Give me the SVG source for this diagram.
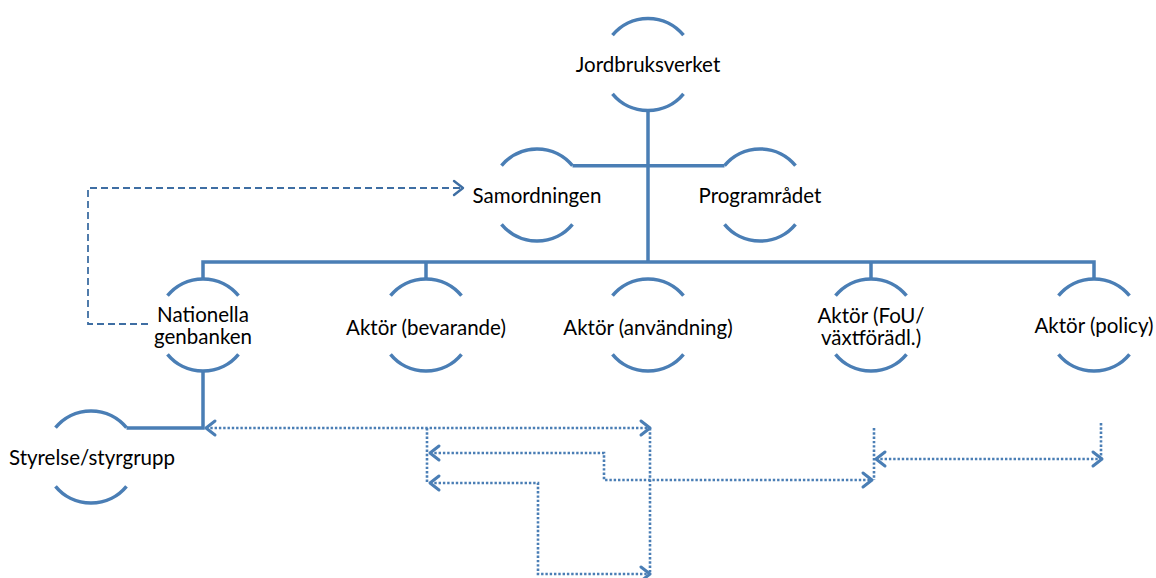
<svg xmlns="http://www.w3.org/2000/svg" xmlns:xlink="http://www.w3.org/1999/xlink" width="1156" height="578" viewBox="0 0 1156 578">
<style>
.ring{fill:none;stroke:#4A7EB5;stroke-width:3.5}
.solid{fill:none;stroke:#4A7EB5;stroke-width:3.5}
.dash{fill:none;stroke:#3E6EA3;stroke-width:1.8;stroke-dasharray:7 4}
.dot{fill:none;stroke:#4A7EB5;stroke-width:2.6;stroke-dasharray:2.4 1.9}
.lbl{font-family:Lato,"Open Sans",sans-serif;font-size:20.5px;fill:#000;text-anchor:middle}
</style>
<defs>
<path id="ringshape" d="M-35.5 -29.3 A46 46 0 0 1 35.5 -29.3 M-35.5 29.3 A46 46 0 0 0 35.5 29.3"/>
<marker id="chev" markerUnits="userSpaceOnUse" markerWidth="24" markerHeight="24" viewBox="-12 -12 16 24" refX="0" refY="0" orient="auto-start-reverse">
<path d="M-9 -7 L0 0 L-9 7" fill="none" stroke="#4A7EB5" stroke-width="3" stroke-linecap="round" stroke-linejoin="round"/>
</marker>
<marker id="chevd" markerUnits="userSpaceOnUse" markerWidth="24" markerHeight="24" viewBox="-12 -12 16 24" refX="0" refY="0" orient="auto-start-reverse">
<path d="M-9 -7 L0 0 L-9 7" fill="none" stroke="#3E6EA3" stroke-width="2.4" stroke-linecap="round" stroke-linejoin="round"/>
</marker>
</defs>
<g id="connectors">
<path class="solid" d="M648 110 V262"/>
<path class="solid" d="M572.5 165.7 H724.5"/>
<path class="solid" d="M203 279 V262 H1094 V279"/>
<path class="solid" d="M426 262 V279"/>
<path class="solid" d="M871 262 V279"/>
<path class="solid" d="M203 371 V428 H126.5"/>
<path class="dash" d="M148 324 H88 V188 H463" marker-end="url(#chevd)"/>
<path class="dot" d="M206 428 H650" marker-start="url(#chev)" marker-end="url(#chev)"/>
<path class="dot" d="M650 428 V574"/>
<path class="dot" d="M427 428 V483"/>
<path class="dot" d="M430 453 H604 V480 H872" marker-start="url(#chev)" marker-end="url(#chev)"/>
<path class="dot" d="M430 483 H538 V574 H650" marker-start="url(#chev)" marker-end="url(#chev)"/>
<path class="dot" d="M874 428 V480"/>
<path class="dot" d="M876 459 H1102" marker-start="url(#chev)" marker-end="url(#chev)"/>
<path class="dot" d="M1101 423 V458"/>
</g>
<g id="n-jordbruksverket"><use xlink:href="#ringshape" class="ring" x="648" y="64.5"/><text class="lbl" x="648" y="72">Jordbruksverket</text></g>
<g id="n-samordningen"><use xlink:href="#ringshape" class="ring" x="537" y="195"/><text class="lbl" x="537" y="203">Samordningen</text></g>
<g id="n-programradet"><use xlink:href="#ringshape" class="ring" x="760" y="195"/><text class="lbl" x="760" y="203">Programrådet</text></g>
<g id="n-nationella"><use xlink:href="#ringshape" class="ring" x="203" y="325"/><text class="lbl" x="203" y="322">Nationella</text><text class="lbl" x="203" y="344">genbanken</text></g>
<g id="n-bevarande"><use xlink:href="#ringshape" class="ring" x="426" y="325"/><text class="lbl" x="426" y="335">Aktör (bevarande)</text></g>
<g id="n-anvandning"><use xlink:href="#ringshape" class="ring" x="648" y="325"/><text class="lbl" x="648" y="335">Aktör (användning)</text></g>
<g id="n-fou"><use xlink:href="#ringshape" class="ring" x="871" y="325"/><text class="lbl" x="871" y="323">Aktör (FoU/</text><text class="lbl" x="871" y="345">växtförädl.)</text></g>
<g id="n-policy"><use xlink:href="#ringshape" class="ring" x="1094" y="325"/><text class="lbl" x="1094" y="333">Aktör (policy)</text></g>
<g id="n-styrelse"><use xlink:href="#ringshape" class="ring" x="91" y="457"/><text class="lbl" x="92" y="465">Styrelse/styrgrupp</text></g>
</svg>
